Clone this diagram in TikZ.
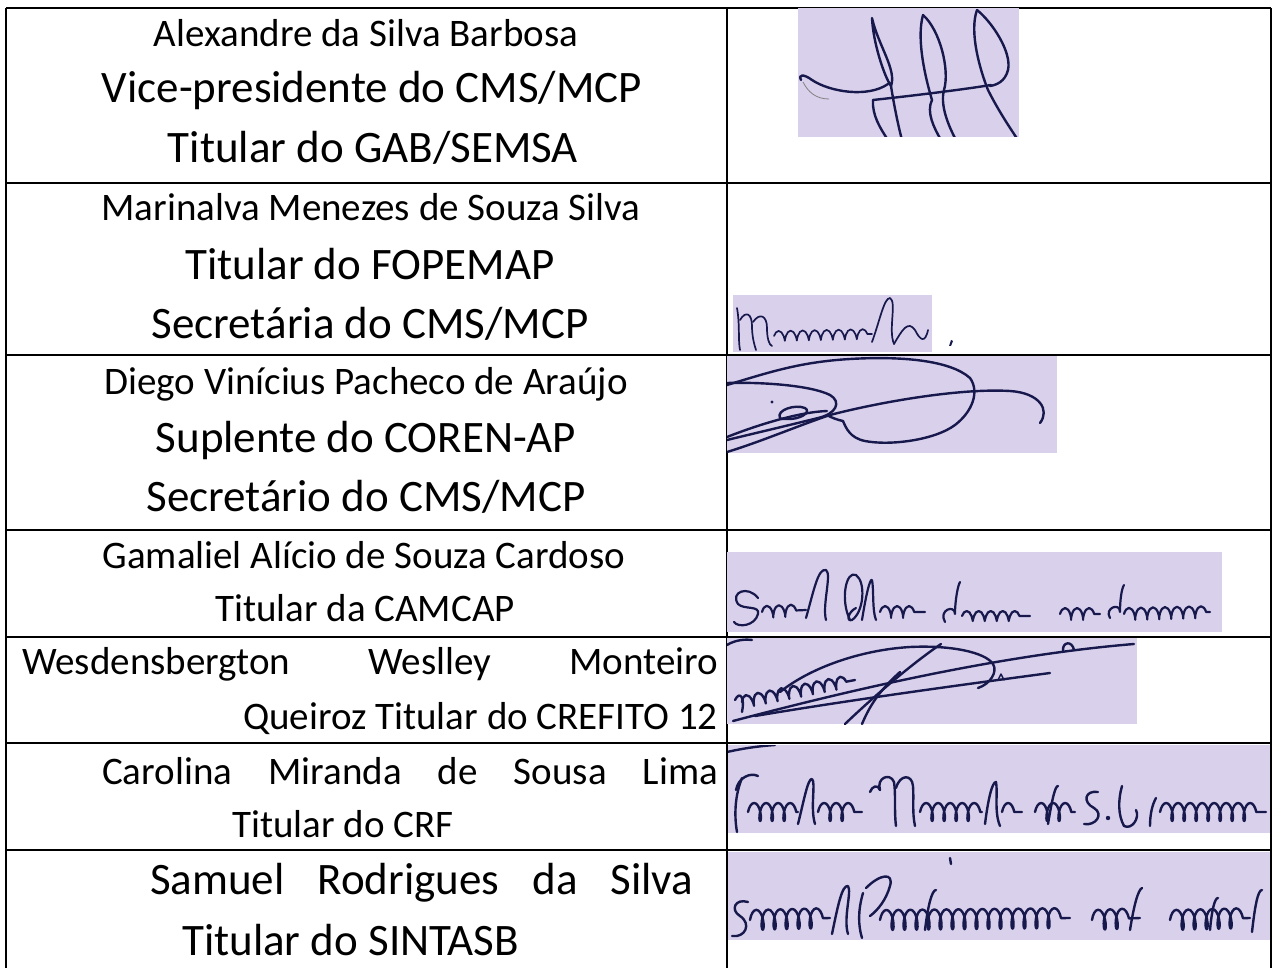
\documentclass[tikz,border=0pt]{standalone}
\usepackage{fontspec}
\setmainfont{Carlito}
\usetikzlibrary{decorations.pathmorphing}
\definecolor{sigbg}{HTML}{D9D0EC}
\definecolor{inkc}{HTML}{17194C}
\tikzset{
  gridline/.style={line width=1.6pt, black},
  sigbox/.style={fill=sigbg, draw=none},
  inkp/.style={draw=inkc, line width=2.4pt, line cap=round, line join=round},
  cursive/.style={inkp, decorate, decoration={coil, aspect=0.35, amplitude=#1, segment length=12pt}},
  cursive/.default=8pt,
  nm/.style={anchor=base, font=\fontsize{39}{39}\selectfont, inner sep=0pt},
  tt/.style={anchor=base, font=\fontsize{45}{45}\selectfont, inner sep=0pt},
}
\begin{document}
\begin{tikzpicture}[x=1pt,y=-1pt]
\useasboundingbox (0,0) rectangle (1278,968);
\fill[white] (0,0) rectangle (1278,968);

% table grid
\draw[gridline] (6,8) -- (1271,8);
\draw[gridline] (6,183) -- (1271,183);
\draw[gridline] (6,355) -- (1271,355);
\draw[gridline] (6,530) -- (1271,530);
\draw[gridline] (6,637) -- (1271,637);
\draw[gridline] (6,743) -- (1271,743);
\draw[gridline] (6,850) -- (1271,850);
\draw[gridline] (6,8) -- (6,968);
\draw[gridline] (727,8) -- (727,968);
\draw[gridline] (1271,8) -- (1271,968);

% texts
\node[nm] (a1) at (366,47) {Alexandre da Silva Barbosa};
\node[tt] (a2) at (372,103) {Vice-presidente do CMS/MCP};
\node[tt] (a3) at (373,163) {Titular do GAB/SEMSA};
\node[nm] (b1) at (371,221) {Marinalva Menezes de Souza Silva};
\node[tt] (b2) at (370,280) {Titular do FOPEMAP};
\node[tt] (b3) at (370,339) {Secretária do CMS/MCP};
\node[nm] (c1) at (366,395) {Diego Vinícius Pacheco de Araújo};
\node[tt] (c2) at (366,453) {Suplente do COREN-AP};
\node[tt] (c3) at (366,511) {Secretário do CMS/MCP};
\node[nm] (d1) at (364,568) {Gamaliel Alício de Souza Cardoso};
\node[nm] (d2) at (365,621) {Titular da CAMCAP};
\node[nm, anchor=base west] (e1) at (22,674) {\makebox[696pt][s]{Wesdensbergton Weslley Monteiro}};
\node[nm, anchor=base east] (e2) at (718,729) {Queiroz Titular do CREFITO 12};
\node[nm, anchor=base west] (f1) at (102,784) {\makebox[616pt][s]{Carolina Miranda de Sousa Lima}};
\node[nm, anchor=base west] (f2) at (232,837) {Titular do CRF};
\node[tt, anchor=base west] (g1) at (150,894) {\makebox[543pt][s]{Samuel Rodrigues da Silva}};
\node[tt, anchor=base west] (g2) at (182,955) {Titular do SINTASB};

% signature 1 (Alexandre)
\fill[sigbox] (798,8) rectangle (1019,137);
\begin{scope}
\clip (798,8) rectangle (1019,137);
\draw[inkp] (801,80) .. controls (798,74) and (804,74) .. (812,80) .. controls (830,92) and (868,98) .. (888,84);
\draw[draw=gray, line width=0.8pt] (803,82) .. controls (808,92) and (816,99) .. (829,99);
\draw[inkp] (872,18) .. controls (878,45) and (897,70) .. (891,86) .. controls (884,76) and (873,42) .. (872,18);
\draw[inkp] (891,86) .. controls (894,105) and (898,125) .. (902,140);
\draw[inkp] (873,100) .. controls (872,115) and (880,128) .. (888,140);
\draw[inkp] (873,100) .. controls (910,96) and (960,90) .. (991,85);
\draw[inkp] (923,15) .. controls (940,30) and (950,70) .. (944,90) .. controls (940,105) and (948,125) .. (956,140);
\draw[inkp] (923,15) .. controls (916,40) and (926,80) .. (932,100) .. controls (926,112) and (934,128) .. (941,140);
\draw[inkp] (977,10) .. controls (992,22) and (1012,52) .. (1008,70) .. controls (1005,82) and (996,85) .. (990,86);
\draw[inkp] (977,10) .. controls (969,32) and (980,70) .. (988,90) .. controls (998,110) and (1010,128) .. (1018,140);
\end{scope}

% signature 2 (Marinalva)
\fill[sigbox] (733,295) rectangle (932,352);
\begin{scope}
\clip (733,295) rectangle (932,352);
\draw[inkp, line width=1.7pt] (737,308) .. controls (740,325) and (738,340) .. (740,350);
\draw[inkp, line width=1.7pt] (740,320) .. controls (746,310) and (752,314) .. (752,326) .. controls (752,336) and (754,344) .. (756,350);
\draw[inkp, line width=1.7pt] (753,322) .. controls (760,312) and (767,316) .. (767,328) .. controls (767,338) and (769,345) .. (772,346);
\draw[cursive=5pt, line width=1.7pt] (774,336) -- (872,334);
\draw[inkp, line width=1.7pt] (872,342) .. controls (880,320) and (884,298) .. (890,298) .. controls (897,302) and (888,330) .. (894,344);
\draw[inkp, line width=1.7pt] (894,344) .. controls (902,330) and (908,320) .. (915,330) .. controls (920,340) and (925,344) .. (928,330);
\end{scope}
\fill[inkc] (949,346) -- (951,340) -- (953,341) -- (951,346) -- cycle;

% signature 3 (Diego)
\fill[sigbox] (727,356) rectangle (1057,453);
\begin{scope}
\clip (727,356) rectangle (1057,453);
\draw[inkp] (727,385) .. controls (770,372) and (800,362) .. (850,359) .. controls (900,356) and (950,360) .. (970,378) .. controls (980,392) and (972,412) .. (955,425) .. controls (935,440) and (890,446) .. (865,441) .. controls (850,438) and (846,428) .. (843,421);
\draw[inkp] (727,452) .. controls (760,442) and (800,425) .. (830,415) .. controls (880,402) and (960,388) .. (1010,391) .. controls (1040,393) and (1050,410) .. (1040,423);
\draw[inkp] (727,437) .. controls (760,424) and (800,412) .. (827,411);
\draw[inkp] (727,383) .. controls (760,382) and (810,385) .. (830,395) .. controls (842,402) and (836,414) .. (818,418) .. controls (790,425) and (760,432) .. (727,440);
\draw[inkp] (780,418) .. controls (776,410) and (795,404) .. (805,408) .. controls (812,412) and (800,420) .. (786,419) .. controls (782,419) and (780,419) .. (780,418);
\fill[inkc] (772,402) circle (1.6);
\draw[inkp] (827,415) .. controls (832,418) and (838,420) .. (843,421);
\end{scope}

% signature 4 (Gamaliel)
\fill[sigbox] (727,552) rectangle (1222,632);
\begin{scope}
\clip (727,552) rectangle (1222,632);
\draw[inkp, line width=2.2pt] (758,598) .. controls (748,585) and (730,592) .. (738,604) .. controls (744,610) and (760,605) .. (758,614) .. controls (755,626) and (738,628) .. (734,622);
\draw[cursive=6pt, line width=2.2pt] (762,612) -- (806,610);
\draw[inkp, line width=2.2pt] (806,618) .. controls (814,590) and (818,568) .. (826,570) .. controls (832,574) and (822,605) .. (826,620);
\draw[inkp, line width=2.2pt] (850,620) .. controls (840,600) and (846,570) .. (856,575) .. controls (866,582) and (864,612) .. (852,620) .. controls (846,622) and (848,612) .. (856,608);
\draw[inkp, line width=2.2pt] (862,620) .. controls (866,595) and (870,578) .. (872,580) .. controls (874,590) and (872,610) .. (876,620);
\draw[cursive=6pt, line width=2.2pt] (880,612) -- (925,612);
\draw[inkp, line width=2.2pt] (945,622) .. controls (938,610) and (955,604) .. (955,614) .. controls (955,600) and (958,585) .. (960,582);
\draw[cursive=5pt, line width=2.2pt] (962,616) -- (1030,616);
\draw[cursive=6pt, line width=2.2pt] (1060,614) -- (1100,614);
\draw[inkp, line width=2.2pt] (1110,618) .. controls (1104,608) and (1120,602) .. (1120,612) .. controls (1120,598) and (1122,588) .. (1124,585);
\draw[cursive=6pt, line width=2.2pt] (1124,614) -- (1210,612);
\end{scope}

% signature 5 (Wesdensbergton)
\fill[sigbox] (727,638) rectangle (1137,724);
\begin{scope}
\clip (727,638) rectangle (1137,724);
\draw[inkp] (733,721) .. controls (850,690) and (1000,655) .. (1134,644);
\draw[inkp] (755,716) .. controls (850,700) and (960,685) .. (1050,673);
\draw[inkp] (780,692) .. controls (810,668) and (860,650) .. (910,647) .. controls (950,645) and (985,652) .. (993,664) .. controls (998,672) and (990,684) .. (978,688);
\draw[inkp] (941,644) .. controls (910,665) and (870,700) .. (845,724);
\draw[inkp] (900,672) .. controls (880,690) and (870,705) .. (862,724);
\draw[cursive=6pt] (742,702) -- (855,680);
\draw[inkp] (735,700) .. controls (740,690) and (745,698) .. (742,712);
\draw[inkp] (1063,651) .. controls (1062,642) and (1072,640) .. (1074,650);
\draw[inkp, line width=1.5pt] (998,680) -- (1001,674) -- (1004,680);
\draw[inkp] (727,645) .. controls (735,640) and (745,639) .. (752,640);
\end{scope}

% signature 6 (Carolina)
\fill[sigbox] (728,745) rectangle (1270,833);
\begin{scope}
\clip (728,745) rectangle (1270,833);
\draw[inkp] (727,752) .. controls (745,748) and (760,746) .. (775,745);
\draw[inkp] (742,778) .. controls (735,795) and (734,815) .. (737,832);
\draw[inkp] (736,790) .. controls (738,778) and (750,772) .. (758,776);
\draw[cursive=9pt] (748,812) -- (798,812);
\draw[inkp] (798,824) .. controls (804,800) and (808,778) .. (812,779) .. controls (816,782) and (810,808) .. (815,824);
\draw[cursive=9pt] (818,812) -- (862,812);
\draw[inkp] (880,790) .. controls (876,778) and (890,772) .. (894,782) .. controls (896,795) and (894,810) .. (896,826);
\draw[inkp] (896,788) .. controls (900,774) and (912,774) .. (913,786) .. controls (914,800) and (912,812) .. (915,826);
\draw[inkp] (870,792) .. controls (872,786) and (878,784) .. (880,790);
\draw[cursive=9pt] (920,812) -- (982,812);
\draw[inkp] (985,824) .. controls (988,800) and (992,782) .. (996,782) .. controls (998,792) and (994,812) .. (1000,826);
\draw[cursive=9pt] (1002,812) -- (1022,812);
\draw[cursive=9pt] (1035,812) -- (1075,812);
\draw[inkp] (1048,824) .. controls (1052,800) and (1055,786) .. (1058,786);
\draw[inkp] (1098,792) .. controls (1085,790) and (1082,802) .. (1094,808) .. controls (1104,814) and (1096,826) .. (1084,824);
\fill[inkc] (1108,818) circle (2.2);
\draw[inkp] (1122,786) .. controls (1118,800) and (1118,815) .. (1124,826) .. controls (1132,830) and (1140,818) .. (1136,810);
\draw[inkp] (1150,826) .. controls (1150,815) and (1152,805) .. (1156,798);
\draw[cursive=9pt] (1160,812) -- (1266,812);
\end{scope}

% signature 7 (Samuel)
\fill[sigbox] (728,852) rectangle (1270,940);
\begin{scope}
\clip (728,852) rectangle (1270,940);
\draw[inkp] (950,858) -- (951,864);
\draw[inkp] (748,902) .. controls (735,898) and (730,910) .. (740,916) .. controls (752,924) and (745,938) .. (732,936);
\draw[cursive=10pt] (750,920) -- (830,918);
\draw[inkp] (832,934) .. controls (838,905) and (842,885) .. (848,886) .. controls (852,892) and (843,918) .. (848,934);
\draw[inkp] (863,893) .. controls (858,910) and (858,925) .. (862,938);
\draw[inkp] (866,888) .. controls (880,874) and (894,872) .. (890,886) .. controls (886,900) and (878,910) .. (870,916);
\draw[cursive=10pt] (880,920) -- (1070,918);
\draw[inkp] (925,930) .. controls (928,905) and (932,890) .. (936,890);
\draw[cursive=10pt] (1092,920) -- (1140,918);
\draw[inkp] (1130,930) .. controls (1134,905) and (1138,890) .. (1142,888);
\draw[cursive=10pt] (1170,920) -- (1250,918);
\draw[inkp] (1252,932) .. controls (1255,905) and (1258,890) .. (1262,890);
\draw[inkp] (1210,930) .. controls (1212,908) and (1215,898) .. (1218,898);
\end{scope}

\end{tikzpicture}
\end{document}
